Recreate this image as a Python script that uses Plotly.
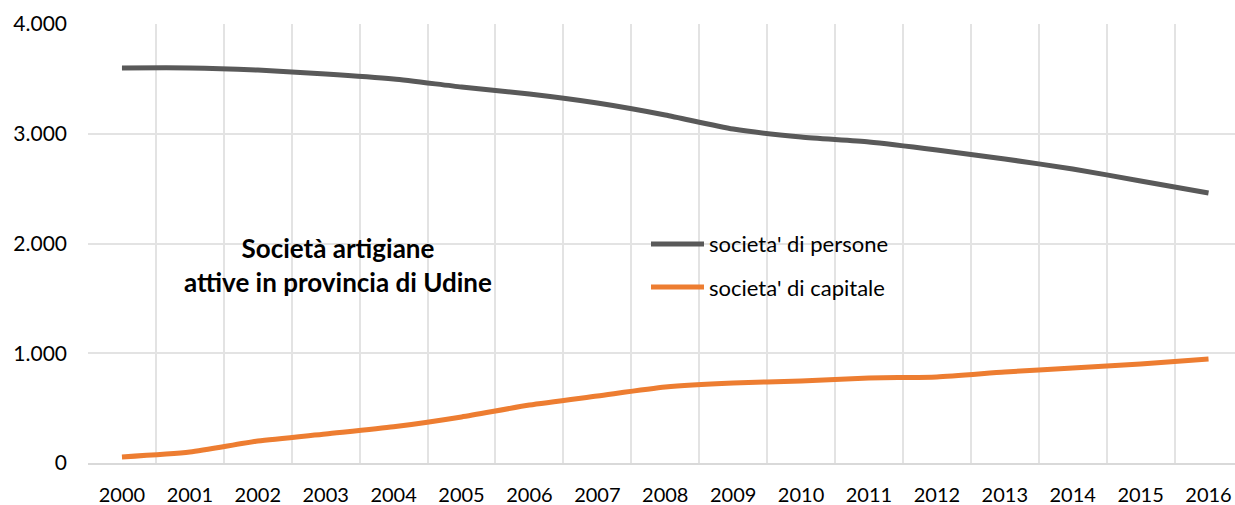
import plotly.graph_objects as go

YEARS = [str(y) for y in range(2000, 2017)]
PERSONE = [3600, 3600, 3580, 3545, 3499, 3426, 3362, 3280, 3171, 3043,
           2970, 2925, 2852, 2770, 2679, 2570, 2460]
CAPITALE = [55, 100, 200, 265, 330, 420, 528, 610, 692, 729,
            747, 775, 784, 829, 866, 902, 948]
Y_TICKS = [0, 1000, 2000, 3000, 4000]
SERIES = [("societa' di persone", PERSONE, "#595959"),
          ("societa' di capitale", CAPITALE, "#ED7D31")]

FONT = "Lato, 'Open Sans', sans-serif"
GRID = "#e3e3e3"

# body margin is removed in the page (post_script), so no offset
W, H = 1235, 505
L, T, B = 88, 24, 42
PW, PH = W - L, H - T - B


def px(x):
    return (x - L) / PW


def py(y):
    return (H - B - y) / PH


fig = go.Figure()
for name, vals, col in SERIES:
    fig.add_trace(go.Scatter(
        x=YEARS, y=vals, mode="lines", name=name,
        line=dict(color=col, width=5, shape="spline", smoothing=0.6),
        showlegend=False,
    ))

# legend drawn by hand (Excel-style long line keys)
for i, (name, _, col) in enumerate(SERIES):
    yp = py(244 + i * 43)
    fig.add_shape(type="line", xref="paper", yref="paper",
                  x0=px(651), x1=px(704), y0=yp, y1=yp,
                  line=dict(color=col, width=5))
    fig.add_annotation(text=name, xref="paper", yref="paper",
                       x=px(707), y=yp, xanchor="left", yanchor="middle",
                       showarrow=False,
                       font=dict(family=FONT, size=22, color="#000000"))

fig.add_annotation(
    text="<b>Società artigiane<br>attive in provincia di Udine</b>",
    x=px(338), y=py(264.5), xref="paper", yref="paper",
    xanchor="center", yanchor="middle",
    showarrow=False, align="center",
    font=dict(family=FONT, size=26, color="#000000"),
)

fig.update_layout(
    width=W, height=H,
    margin=dict(l=L, r=0, t=T, b=B),
    paper_bgcolor="white", plot_bgcolor="white",
    separators=",.",
    showlegend=False,
    font=dict(family=FONT, size=21, color="#000000"),
    xaxis=dict(
        type="category", range=[-0.5, 16.39], tickson="boundaries",
        showgrid=True, gridcolor=GRID, gridwidth=1.5,
        showline=True, linecolor="#d9d9d9", linewidth=1.5,
        ticks="", ticklabelstandoff=13, tickfont=dict(size=20),
        automargin=False,
    ),
    yaxis=dict(
        range=[0, 4000], tickvals=Y_TICKS, tickformat=",",
        showgrid=True, gridcolor=GRID, gridwidth=1.5,
        zeroline=False, ticks="", ticklabelstandoff=20,
        tickfont=dict(size=21), automargin=False,
    ),
)

fig.write_html(
    "out.html",
    config={"displayModeBar": False},
    post_script="document.body.style.margin='0';"
                "document.body.style.overflow='hidden';",
)
